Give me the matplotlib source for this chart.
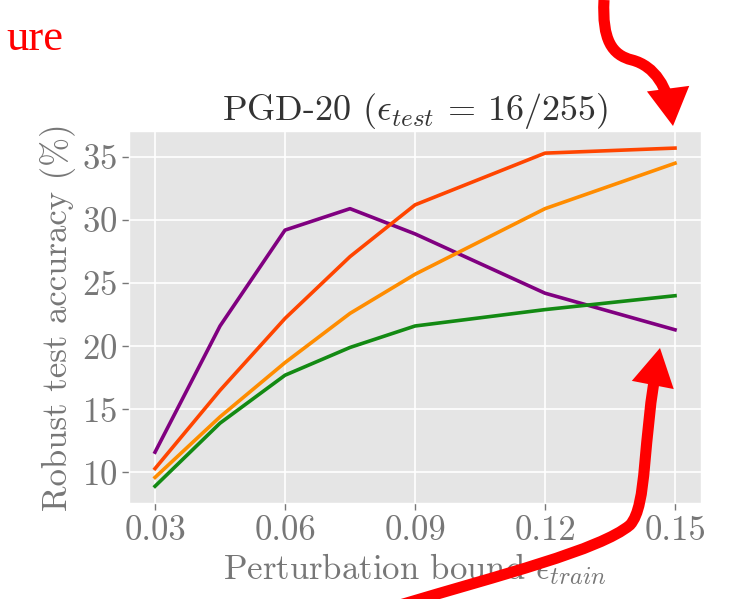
import matplotlib
matplotlib.use("Agg")
import matplotlib.pyplot as plt
from matplotlib.path import Path
from matplotlib.patches import FancyArrowPatch

# data
eps_train = [0.03, 0.045, 0.06, 0.075, 0.09, 0.12, 0.15]
acc_purple = [11.6, 21.6, 29.2, 30.9, 28.9, 24.2, 21.3]
acc_red = [10.3, 16.5, 22.2, 27.1, 31.2, 35.3, 35.7]
acc_orange = [9.6, 14.4, 18.7, 22.6, 25.7, 30.9, 34.5]
acc_green = [8.9, 13.9, 17.7, 19.9, 21.6, 22.9, 24.0]
x_ticks = [0.03, 0.06, 0.09, 0.12, 0.15]
x_ticklabels = ["0.03", "0.06", "0.09", "0.12", "0.15"]
y_ticks = [10, 15, 20, 25, 30, 35]

plt.style.use("ggplot")
plt.rcParams["font.family"] = ["cmr10", "DejaVu Serif"]
plt.rcParams["mathtext.fontset"] = "cm"
plt.rcParams["axes.formatter.use_mathtext"] = True

fig = plt.figure(figsize=(7.31, 5.99), dpi=100)
ax = fig.add_axes([0.1765, 0.160, 0.7825, 0.621])

ax.plot(eps_train, acc_purple, color="#800080", lw=2.6)
ax.plot(eps_train, acc_red, color="#FF4500", lw=2.6)
ax.plot(eps_train, acc_orange, color="#FF8C00", lw=2.6)
ax.plot(eps_train, acc_green, color="#138A13", lw=2.6)

ax.set_xticks(x_ticks)
ax.set_xticklabels(x_ticklabels)
ax.set_yticks(y_ticks)
ax.tick_params(labelsize=25, colors="#777777", length=5, width=1)
ax.grid(True, color="white", lw=1.2)

ax.set_title(r"PGD-20 ($\epsilon_{test}$ = 16/255)", fontsize=26, color="#333333", pad=6)
ax.set_xlabel(r"Perturbation bound $\epsilon_{train}$", fontsize=25, color="#777777", labelpad=3)
ax.set_ylabel("Robust test accuracy (%)", fontsize=25, color="#777777", labelpad=4)

# red annotations on top of the figure (pixel coords -> figure fraction)
W, H = 731.0, 599.0
def fp(x, y):
    return (x / W, 1 - y / H)

fig.text(6 / W, 1 - 50 / H, "ure", color="red", fontsize=32,
         family="Liberation Serif", ha="left", va="baseline")

top_path = Path([fp(604, 0), fp(602, 40), fp(612, 55), fp(632, 60),
                 fp(655, 66), fp(668, 88), fp(673, 126)],
                [Path.MOVETO, Path.CURVE4, Path.CURVE4, Path.CURVE4,
                 Path.CURVE4, Path.CURVE4, Path.CURVE4])
bot_path = Path([fp(400, 605), fp(500, 575), fp(600, 550), fp(630, 525),
                 fp(648, 505), fp(642, 440), fp(660, 348)],
                [Path.MOVETO, Path.CURVE4, Path.CURVE4, Path.CURVE4,
                 Path.CURVE4, Path.CURVE4, Path.CURVE4])
for p in [top_path, bot_path]:
    arr = FancyArrowPatch(path=p, arrowstyle="-|>,head_length=15,head_width=8.5",
                          color="red", lw=8, transform=fig.transFigure,
                          mutation_scale=1, joinstyle="miter", capstyle="butt")
    fig.patches.append(arr)

plt.savefig("out.png", dpi=100)
